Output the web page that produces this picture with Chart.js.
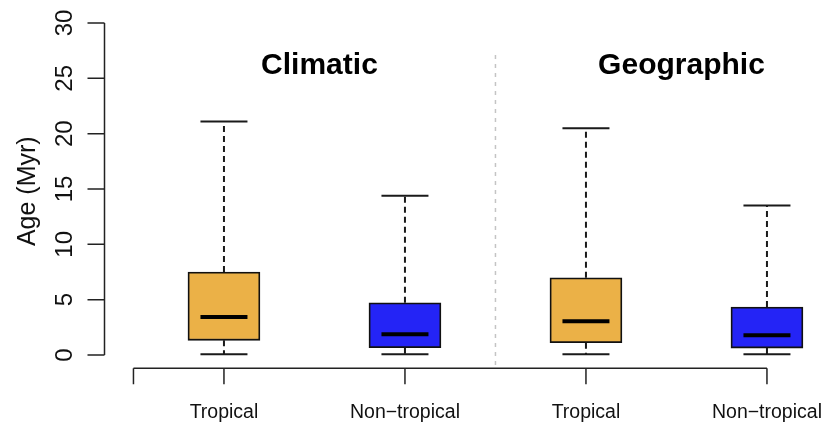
<!DOCTYPE html>
<html>
<head>
<meta charset="utf-8">
<title>Age by region type</title>
<script src="https://cdn.jsdelivr.net/npm/chart.js@4.4.1/dist/chart.umd.min.js"></script>
<style>
    html, body { margin: 0; padding: 0; background: #ffffff; overflow: hidden; }
    #wrap { width: 821px; height: 425px; }
</style>
</head>
<body>
<div id="wrap"><canvas id="boxChart" width="821" height="425"></canvas></div>
<script>
// values
const categories = ['Tropical', 'Non\u2212tropical', 'Tropical', 'Non\u2212tropical'];
const groups = ['Climatic', 'Geographic'];
const whiskerLow = [0.06, 0.06, 0.06, 0.06];
const q1 = [1.33, 0.66, 1.11, 0.63];
const medians = [3.43, 1.87, 3.04, 1.78];
const q3 = [7.5, 4.72, 6.98, 4.34];
const whiskerHigh = [21.1, 14.4, 20.5, 13.5];
const yTicks = [0, 5, 10, 15, 20, 25, 30];

const boxColors = ['#ebb147', '#2424f6', '#ebb147', '#2424f6'];
const FONT = '"Liberation Sans", Arial, Helvetica, sans-serif';

document.addEventListener('DOMContentLoaded', () => {
    const ctx = document.getElementById('boxChart').getContext('2d');

    // whiskers, medians, axes and labels, all placed through the chart scales
    const boxExtras = {
        id: 'boxExtras',
        beforeDatasetsDraw(chart) {
            const c = chart.ctx;
            const x = chart.scales.x, y = chart.scales.y;
            // grey dashed separator between the two groups
            c.save();
            c.strokeStyle = '#c4c4c4';
            c.lineWidth = 1.5;
            c.setLineDash([4, 5]);
            c.beginPath();
            c.moveTo(x.getPixelForValue(2.5), y.getPixelForValue(27.1));
            c.lineTo(x.getPixelForValue(2.5), y.getPixelForValue(-1.0));
            c.stroke();
            c.restore();
        },
        afterDatasetsDraw(chart) {
            const c = chart.ctx;
            const x = chart.scales.x, y = chart.scales.y;
            const capHalf = 23.5;
            c.save();
            categories.forEach((cat, i) => {
                const px = x.getPixelForValue(i + 1);
                // dashed whiskers
                c.strokeStyle = '#1a1a1a';
                c.lineWidth = 2;
                c.setLineDash([6, 4]);
                c.beginPath();
                c.moveTo(px, y.getPixelForValue(q3[i]));
                c.lineTo(px, y.getPixelForValue(whiskerHigh[i]));
                c.moveTo(px, y.getPixelForValue(q1[i]));
                c.lineTo(px, y.getPixelForValue(whiskerLow[i]));
                c.stroke();
                // caps
                c.setLineDash([]);
                c.beginPath();
                c.moveTo(px - capHalf, y.getPixelForValue(whiskerHigh[i]));
                c.lineTo(px + capHalf, y.getPixelForValue(whiskerHigh[i]));
                c.moveTo(px - capHalf, y.getPixelForValue(whiskerLow[i]));
                c.lineTo(px + capHalf, y.getPixelForValue(whiskerLow[i]));
                c.stroke();
                // median
                c.strokeStyle = '#000000';
                c.lineWidth = 4;
                c.beginPath();
                c.moveTo(px - capHalf, y.getPixelForValue(medians[i]));
                c.lineTo(px + capHalf, y.getPixelForValue(medians[i]));
                c.stroke();
            });
            c.restore();
        },
        afterDraw(chart) {
            const c = chart.ctx;
            const x = chart.scales.x, y = chart.scales.y;
            const axisY = chart.chartArea.bottom;
            const axisX = chart.chartArea.left;
            c.save();
            c.strokeStyle = '#222222';
            c.fillStyle = '#111111';
            c.lineWidth = 1.5;

            // y axis
            c.beginPath();
            c.moveTo(axisX, y.getPixelForValue(yTicks[0]));
            c.lineTo(axisX, y.getPixelForValue(yTicks[yTicks.length - 1]));
            yTicks.forEach(t => {
                c.moveTo(axisX, y.getPixelForValue(t));
                c.lineTo(axisX - 17, y.getPixelForValue(t));
            });
            c.stroke();
            c.font = '24px ' + FONT;
            c.textAlign = 'center';
            c.textBaseline = 'alphabetic';
            yTicks.forEach(t => {
                c.save();
                c.translate(72, y.getPixelForValue(t));
                c.rotate(-Math.PI / 2);
                c.fillText(String(t), 0, 0);
                c.restore();
            });
            c.save();
            c.font = '25px ' + FONT;
            c.translate(35, y.getPixelForValue(14.8));
            c.rotate(-Math.PI / 2);
            c.fillText('Age (Myr)', 0, 0);
            c.restore();

            // x axis
            c.beginPath();
            c.moveTo(x.getPixelForValue(0.5), axisY);
            c.lineTo(x.getPixelForValue(categories.length), axisY);
            c.moveTo(x.getPixelForValue(0.5), axisY);
            c.lineTo(x.getPixelForValue(0.5), axisY + 16);
            categories.forEach((cat, i) => {
                c.moveTo(x.getPixelForValue(i + 1), axisY);
                c.lineTo(x.getPixelForValue(i + 1), axisY + 16);
            });
            c.stroke();
            c.font = '19.5px ' + FONT;
            categories.forEach((cat, i) => {
                c.fillText(cat, x.getPixelForValue(i + 1), 418);
            });

            // group titles
            c.fillStyle = '#000000';
            c.font = 'bold 30px ' + FONT;
            groups.forEach((g, i) => {
                c.fillText(g, x.getPixelForValue(1.5 + 2 * i) + 5, y.getPixelForValue(25.4));
            });
            c.restore();
        }
    };

    const boxChart = new Chart(ctx, {
        type: 'bar',
        data: {
            datasets: [{
                label: 'Age',
                data: categories.map((cat, i) => ({ x: i + 1, y: [q1[i], q3[i]] })),
                backgroundColor: boxColors,
                borderColor: '#111111',
                borderWidth: 1.8,
                borderSkipped: false,
                barThickness: 72
            }]
        },
        options: {
            responsive: false,
            animation: false,
            devicePixelRatio: 1,
            layout: {
                padding: { left: 104.5, right: 0, top: 9.7, bottom: 56.7 }
            },
            plugins: {
                legend: { display: false },
                tooltip: { enabled: false }
            },
            scales: {
                x: {
                    type: 'linear',
                    display: false,
                    offset: false,
                    min: 0.34,
                    max: 0.34 + 716.5 / 181
                },
                y: {
                    display: false,
                    min: -1.2,
                    max: 31.2
                }
            }
        },
        plugins: [boxExtras]
    });
});
</script>
</body>
</html>
